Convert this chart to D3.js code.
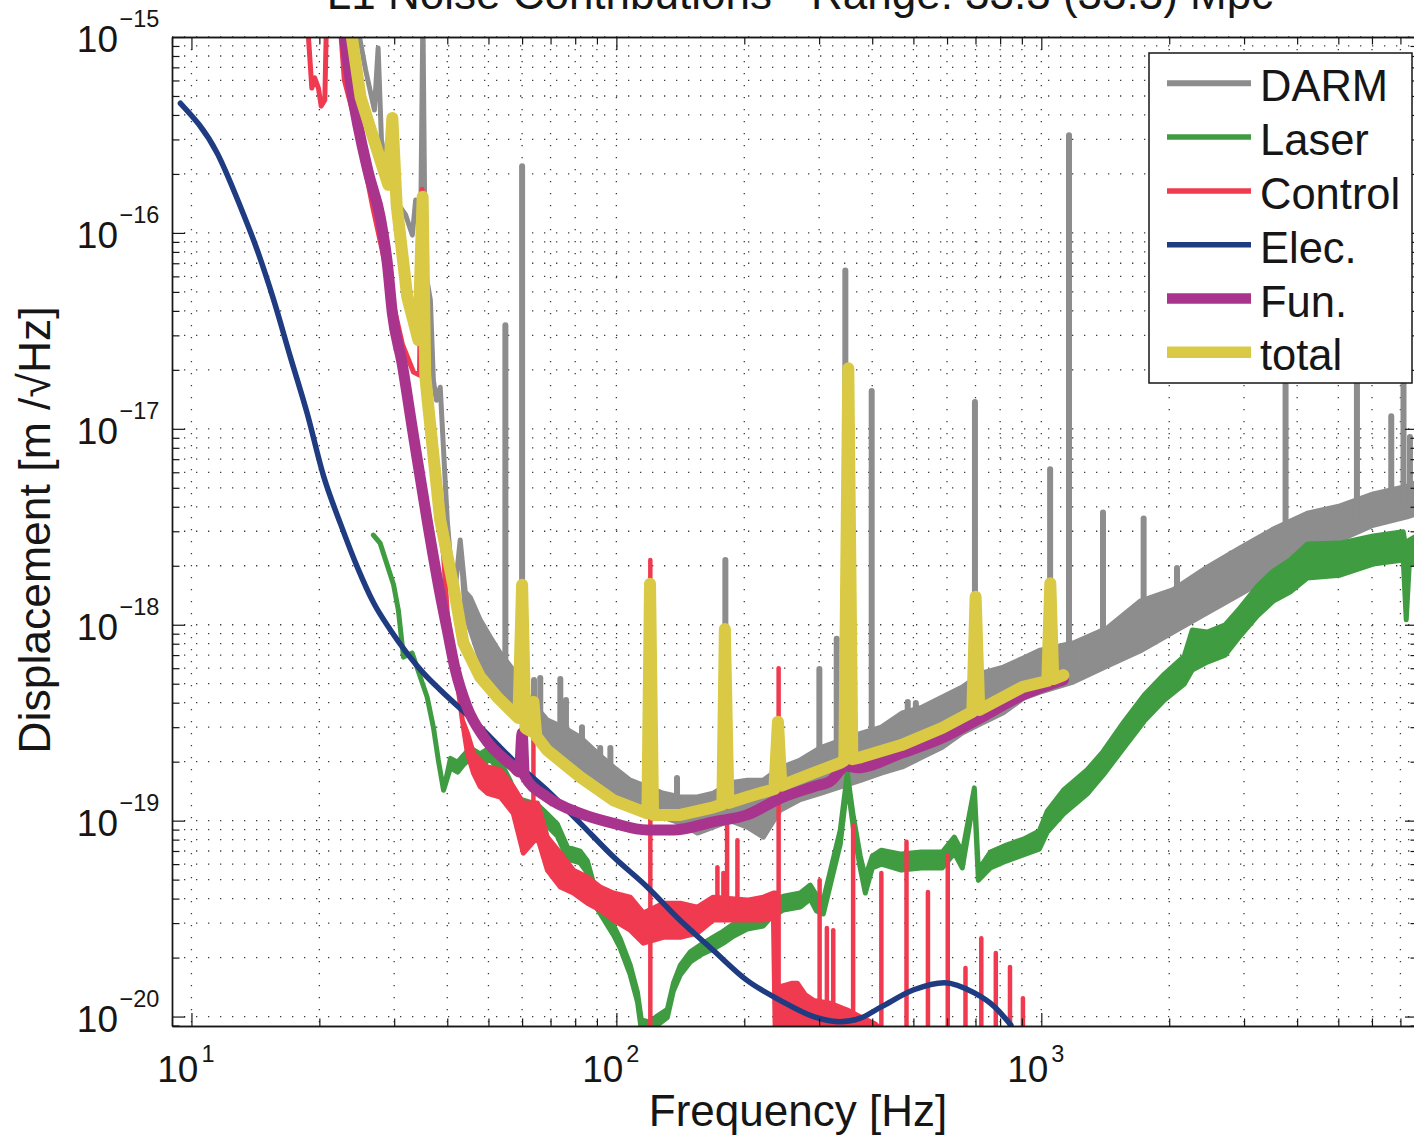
<!DOCTYPE html>
<html>
<head>
<meta charset="utf-8">
<title>L1 Noise Contributions</title>
<script src="https://cdnjs.cloudflare.com/ajax/libs/d3/7.8.5/d3.min.js"></script>
<style>
	body { margin: 0; background: #fff; }
	svg { display: block; font-family: "Liberation Sans", Arial, Helvetica, sans-serif; }
</style>
</head>
<body>
<svg id="chart" width="1414" height="1138"></svg>
<script>
"use strict";

// ---- data: [Hz, m/rtHz] or [Hz, low, high] for noisy bands ----
var seriesNames = ["DARM", "Laser", "Control", "Elec.", "Fun.", "total"];

var darmBand = [
	[24.3, 1.3e-15], [25.7, 6.79e-16], [26.95, 4.24e-16], [27.5, 8.79e-16], [28.0, 2.98e-16],
	[28.8, 2.14e-16], [30.2, 1.47e-16], [31.9, 1.24e-16], [33.1, 9.75e-17], [33.7, 1.47e-16],
	[34.6, 9.19e-17], [35.05, 1.3e-15], [35.5, 6.46e-17], [36.5, 4.54e-17], [37.1, 1.77e-17],
	[37.7, 1.40e-17], [38.5, 1.63e-17], [39.2, 7.79e-18], [40.0, 3.42e-18], [40.7, 2.14e-18],
	[41.8, 1.56e-18], [42.9, 2.71e-18],
	[44.1, 1.12e-18, 1.47e-18], [45.3, 9.40e-19, 1.38e-18], [47.8, 6.62e-19, 1.06e-18],
	[50.5, 5.04e-19, 8.65e-19], [53.3, 4.48e-19, 7.17e-19], [57.2, 3.80e-19, 5.87e-19],
	[62.7, 3.00e-19, 4.13e-19], [68.8, 2.21e-19, 3.26e-19], [75.0, 1.97e-19, 3.00e-19],
	[82.2, 1.82e-19, 2.67e-19], [90.2, 1.49e-19, 2.21e-19], [98.4, 1.32e-19, 1.88e-19],
	[107.8, 1.23e-19, 1.61e-19], [118.3, 1.13e-19, 1.49e-19], [129.0, 1.04e-19, 1.38e-19],
	[141.4, 9.72e-20, 1.32e-19], [155.1, 8.64e-20, 1.32e-19], [169, 9.27e-20, 1.38e-19],
	[185.4, 1.0e-19, 1.56e-19], [203.3, 9.27e-20, 1.61e-19], [221.8, 8.24e-20, 1.61e-19],
	[243, 1.13e-19, 1.86e-19], [270.9, 1.28e-19, 2.04e-19], [303.6, 1.38e-19, 2.37e-19],
	[338.2, 1.49e-19, 2.58e-19], [377.2, 1.61e-19, 2.80e-19], [420.3, 1.75e-19, 3.00e-19],
	[470.9, 1.88e-19, 3.55e-19], [524.8, 2.11e-19, 3.80e-19], [584.8, 2.37e-19, 4.28e-19],
	[651.8, 2.80e-19, 4.81e-19], [726.3, 3.15e-19, 5.67e-19], [814.2, 3.55e-19, 6.08e-19],
	[907.2, 4.22e-19, 6.76e-19], [993.9, 4.53e-19, 7.42e-19], [1189, 5.10e-19, 8.07e-19],
	[1430, 6.16e-19, 9.62e-19], [1708, 7.34e-19, 1.32e-18], [2045, 9.18e-19, 1.51e-18],
	[2458, 1.15e-18, 1.97e-18], [2936, 1.43e-18, 2.47e-18], [3515, 1.79e-18, 3.08e-18],
	[4226, 2.35e-18, 3.71e-18], [5046, 2.71e-18, 4.04e-18], [6042, 3.22e-18, 4.65e-18],
	[7263, 3.55e-18, 5.10e-18], [7692, 3.71e-18, 5.35e-18]
];

// lines: [Hz, base, peak]
var darmLines = [
	[54.8, 5.0e-19, 3.38e-17], [60, 4.0e-19, 2.19e-16], [64.0, 3.5e-19, 5.22e-19],
	[66.2, 3.0e-19, 5.34e-19], [73.8, 2.6e-19, 5.28e-19], [76.1, 2.5e-19, 4.13e-19],
	[83.0, 2.2e-19, 3.00e-19], [91.6, 1.8e-19, 2.35e-19], [96.8, 1.7e-19, 2.35e-19],
	[138.9, 1.15e-19, 1.65e-19], [180.5, 1.3e-19, 2.14e-18], [300.4, 1.8e-19, 5.94e-19],
	[330.0, 2.0e-19, 8.49e-19], [345.8, 2.0e-19, 6.43e-17], [398.9, 2.2e-19, 1.56e-17],
	[484.9, 2.5e-19, 4.03e-19], [506.7, 2.6e-19, 3.99e-19], [673.3, 3.5e-19, 4.53e-19],
	[698.0, 3.7e-19, 1.37e-17], [1049, 5.5e-19, 6.21e-18], [1162, 6.0e-19, 3.15e-16],
	[1397, 7.5e-19, 3.74e-18], [1741, 9.5e-19, 3.49e-18], [2086, 1.2e-18, 1.95e-18],
	[2795, 1.7e-18, 2.31e-18], [3757, 2.5e-18, 2.53e-17], [5531, 3.2e-18, 2.53e-17],
	[6661, 3.8e-18, 1.16e-17], [7118, 4.0e-18, 2.53e-17], [7371, 4.2e-18, 9.08e-18]
];

var laserBand = [
	[26.8, 2.87e-18], [27.8, 2.61e-18], [29.9, 1.60e-18], [30.7, 1.18e-18], [31.55, 6.84e-19],
	[33.06, 7.17e-19], [35.86, 4.28e-19], [37.1, 3.00e-19],
	[38.1, 2.04e-19], [39.2, 1.43e-19],
	[40.7, 1.86e-19, 2.08e-19], [42.3, 1.77e-19, 1.99e-19], [43.7, 1.93e-19, 2.16e-19],
	[45.3, 2.08e-19, 2.35e-19], [47.8, 1.90e-19, 2.19e-19], [50.5, 2.06e-19, 2.37e-19],
	[53.3, 1.75e-19, 2.02e-19], [56.3, 1.38e-19, 1.59e-19], [58.5, 1.16e-19, 1.30e-19],
	[65.2, 1.05e-19, 1.21e-19], [68.8, 9.39e-20, 1.08e-19], [72.6, 8.34e-20, 9.61e-20],
	[76.7, 6.37e-20, 7.33e-20], [82.2, 6.08e-20, 6.99e-20], [85.5, 5.40e-20, 6.22e-20],
	[90.2, 3.54e-20, 4.07e-20], [95.2, 2.93e-20, 3.30e-20], [98.4, 2.61e-20, 2.93e-20],
	[102, 2.24e-20, 2.51e-20], [107.8, 1.63e-20, 1.83e-20], [112.1, 1.19e-20, 1.33e-20],
	[114.5, 8.53e-21, 9.6e-21], [120.2, 8.33e-21, 9.37e-21], [124.2, 8.96e-21, 1.0e-20],
	[131.8, 9.9e-21, 1.09e-20], [136.2, 1.35e-20, 1.48e-20], [141.4, 1.63e-20, 1.83e-20],
	[149.3, 1.90e-20, 2.14e-20], [157.6, 2.06e-20, 2.32e-20], [169, 2.21e-20, 2.54e-20],
	[178.6, 2.37e-20, 2.73e-20], [188.5, 2.57e-20, 2.97e-20], [203.3, 2.80e-20, 3.22e-20],
	[221.8, 2.90e-20, 3.34e-20], [230.2, 3.18e-20, 3.66e-20], [247.2, 3.50e-20, 4.12e-20],
	[270.9, 3.62e-20, 4.27e-20], [285.9, 3.98e-20, 4.69e-20], [295.6, 3.46e-20, 4.17e-20],
	[306.9, 3.34e-20, 3.93e-20], [318.7, 4.69e-20, 5.53e-20], [336.4, 7.59e-20, 8.96e-20],
	[349.6, 1.56e-19, 1.75e-19], [361.1, 9.17e-20, 1.05e-19], [374.9, 5.73e-20, 6.60e-20],
	[385.3, 4.27e-20, 5.15e-20], [400.2, 5.73e-20, 6.60e-20], [420.3, 6.00e-20, 7.07e-20],
	[468.3, 5.59e-20, 6.75e-20], [522.0, 5.73e-20, 6.91e-20], [584.8, 5.73e-20, 6.91e-20],
	[624.2, 6.83e-20, 8.24e-20], [651.8, 5.73e-20, 6.91e-20], [695.7, 1.34e-19, 1.47e-19],
	[710.9, 4.97e-20, 5.59e-20], [758.6, 5.73e-20, 6.91e-20], [827.5, 6.22e-20, 7.50e-20],
	[907.2, 6.68e-20, 8.05e-20], [989.2, 7.16e-20, 8.86e-20], [1033, 8.75e-20, 1.12e-19],
	[1127, 1.08e-19, 1.43e-19], [1283, 1.37e-19, 1.82e-19], [1399, 1.71e-19, 2.26e-19],
	[1568, 2.37e-19, 3.22e-19], [1747, 3.22e-19, 4.38e-19], [1948, 4.13e-19, 5.60e-19],
	[2170, 4.98e-19, 6.92e-19], [2266, 5.87e-19, 9.40e-19], [2458, 6.45e-19, 9.18e-19],
	[2710, 7.00e-19, 1.0e-18], [2936, 8.76e-19, 1.22e-18], [3224, 1.11e-18, 1.57e-18],
	[3515, 1.32e-18, 1.88e-18], [3849, 1.47e-18, 2.14e-18], [4226, 1.73e-18, 2.58e-18],
	[5046, 1.79e-18, 2.61e-18], [6042, 2.04e-18, 2.84e-18], [7108, 2.14e-18, 2.98e-18],
	[7224, 1.06e-18, 2.40e-18], [7343, 2.01e-18, 2.70e-18], [7692, 2.08e-18, 2.87e-18]
];

var controlBand = [
	[18.7, 1.3e-15], [19.2, 5.49e-16], [19.5, 6.18e-16], [19.9, 5.49e-16], [20.2, 4.44e-16],
	[20.6, 4.77e-16], [20.8, 1.3e-15], [21.6, 2e-15], [22.3, 1.3e-15], [22.9, 6.03e-16],
	[23.9, 4.24e-16], [25.0, 2.81e-16], [26.7, 1.36e-16], [28.1, 8.18e-17], [29.7, 4.54e-17],
	[31.4, 2.68e-17], [33.3, 1.95e-17], [34.4, 1.88e-17], [34.9, 1.67e-16], [35.4, 1.54e-17],
	[36.9, 6.16e-18], [39.2, 2.27e-18], [40.0, 1.15e-18], [41.8, 6.00e-19], [43.4, 3.26e-19],
	[44.6, 2.21e-19, 2.80e-19], [46.1, 1.75e-19, 2.21e-19], [47.8, 1.49e-19, 2.04e-19],
	[49.7, 1.38e-19, 1.88e-19], [53.3, 1.32e-19, 1.82e-19], [57.2, 1.09e-19, 1.49e-19],
	[60.4, 6.83e-20, 1.23e-19], [65.2, 8.24e-20, 1.23e-19], [68.8, 5.59e-20, 8.24e-20],
	[73.8, 4.58e-20, 6.83e-20], [79.2, 4.27e-20, 5.59e-20], [85.5, 3.79e-20, 5.15e-20],
	[91.6, 3.50e-20, 4.58e-20], [98.4, 3.11e-20, 4.27e-20], [107.8, 2.76e-20, 4.07e-20],
	[115.7, 2.37e-20, 3.38e-20], [129.0, 2.54e-20, 3.79e-20], [141.4, 2.54e-20, 3.79e-20],
	[155.1, 2.67e-20, 3.62e-20], [169, 3.11e-20, 4.07e-20], [203.3, 3.11e-20, 3.93e-20],
	[221.8, 3.11e-20, 4.07e-20], [234.2, 3.22e-20, 4.27e-20], [237.3, 5e-21, 4.27e-20],
	[239.3, 5e-21, 1.37e-20], [243, 5e-21, 1.42e-20], [259.5, 5e-21, 1.48e-20],
	[266.6, 5e-21, 1.48e-20], [278.5, 5e-21, 1.29e-20], [291, 5e-21, 1.21e-20],
	[318.7, 5e-21, 1.17e-20], [349.6, 5e-21, 1.08e-20], [377.2, 5e-21, 9.9e-21],
	[406.8, 5e-21, 9.16e-21], [420.3, 5e-21, 8.53e-21]
];

var controlLines = [
	[63.8, 1.2e-19, 2.67e-19], [120.2, 5e-21, 2.14e-18], [172.9, 3.5e-20, 5.79e-20],
	[178.6, 3.5e-20, 5.40e-20], [182.2, 3.5e-20, 1.0e-19], [192.7, 3.5e-20, 7.95e-20],
	[240.9, 5e-21, 6.00e-19], [300.8, 5e-21, 4.97e-20], [312.9, 5e-21, 2.83e-20],
	[323.9, 5e-21, 2.76e-20], [360.7, 5e-21, 9.50e-20], [420.3, 5e-21, 5.40e-20],
	[481.7, 5e-21, 7.80e-20], [541.0, 5e-21, 4.32e-20], [602.4, 5e-21, 6.68e-20],
	[663.1, 5e-21, 1.77e-20], [722.4, 5e-21, 2.51e-20], [781.5, 5e-21, 2.11e-20],
	[843.9, 5e-21, 1.79e-20], [905.2, 5e-21, 1.24e-20]
];

var elecCurve = [
	[9.42, 4.59e-16], [11.5, 2.55e-16], [13.04, 1.36e-16], [14.28, 8.18e-17], [15.62, 4.54e-17],
	[17.09, 2.33e-17], [18.72, 1.20e-17], [20.48, 5.70e-18], [22.41, 3.29e-18], [24.54, 1.98e-18],
	[26.85, 1.29e-18], [29.39, 9.40e-19], [32.18, 7.14e-19], [35.2, 5.64e-19], [38.52, 4.64e-19],
	[47.8, 3.01e-19], [57.2, 2.03e-19], [68.7, 1.43e-19],
	[82.2, 9.72e-20], [98.4, 6.54e-20], [118, 4.6e-20], [141, 3.11e-20], [169, 2.18e-20],
	[203, 1.53e-20], [243, 1.21e-20], [291, 1.0e-20], [336, 9.41e-21], [375, 9.82e-21],
	[420, 1.12e-20], [501, 1.37e-20], [591, 1.49e-20], [696, 1.32e-20], [777, 1.12e-20],
	[848, 9.05e-21]
];

var funCurve = [
	[22.8, 1.1e-15], [23.76, 5.58e-16], [26.1, 2.02e-16], [27.8, 1.21e-16], [28.9, 7.02e-17],
	[29.7, 3.9e-17], [31.3, 2.17e-17], [33.06, 1.02e-17], [35.86, 3.42e-18], [38.2, 1.56e-18],
	[40.0, 9.4e-19], [41.8, 5.87e-19], [44.5, 3.81e-19], [48.7, 2.68e-19], [57.3, 1.88e-19],
	[59.1, 1.77e-19], [60.0, 2.80e-19], [60.75, 1.70e-19], [68.7, 1.32e-19], [82.2, 1.09e-19],
	[98.5, 9.69e-20], [118.1, 8.96e-20], [136.4, 8.96e-20], [169.2, 9.87e-20], [203, 1.07e-19],
	[243, 1.30e-19], [290.8, 1.49e-19], [318.7, 1.59e-19], [348, 1.90e-19], [368.7, 1.86e-19],
	[469, 2.21e-19], [584, 2.64e-19], [727, 3.39e-19], [904.7, 4.38e-19], [1127, 5.22e-19]
];

var totalCurve = [
	[23.7, 1.1e-15], [25.0, 4.94e-16], [27.2, 2.75e-16], [29.07, 1.76e-16], [29.7, 3.86e-16],
	[30.4, 1.39e-16], [32.2, 4.71e-17], [34.2, 2.84e-17], [35.0, 1.53e-16], [35.5, 1.88e-17],
	[35.9, 1.45e-17], [38.5, 3.42e-18], [41.4, 1.56e-18], [43.65, 8.07e-19], [47.8, 5.41e-19],
	[52.4, 4.28e-19], [58.8, 3.34e-19], [60.0, 1.6e-18], [61.1, 2.97e-19], [62.7, 2.87e-19],
	[63.8, 4.03e-19], [64.8, 2.70e-19], [68.7, 2.29e-19], [82.2, 1.67e-19], [98.5, 1.27e-19],
	[118.3, 1.09e-19], [120.0, 1.62e-18], [122.0, 1.07e-19], [141.4, 1.07e-19], [169.2, 1.17e-19],
	[177.6, 1.21e-19], [180.0, 9.5e-19], [183.5, 1.23e-19], [203, 1.32e-19], [235.4, 1.45e-19],
	[240.0, 3.2e-19], [244.5, 1.51e-19], [290.8, 1.75e-19], [336.4, 1.97e-19], [343.9, 2.03e-19],
	[351.4, 2.04e-17], [359.2, 2.06e-19], [377.2, 2.11e-19], [468.4, 2.43e-19], [584, 2.97e-19],
	[688, 3.59e-19], [700.5, 1.39e-18], [714.5, 3.67e-19], [904.7, 4.82e-19], [1033, 5.16e-19],
	[1050, 1.63e-18], [1067, 5.28e-19], [1127, 5.53e-19]
];

var xTickValues = [10, 100, 1000];
var xTickExponents = ["1", "2", "3"];
var yTickValues = [1e-15, 1e-16, 1e-17, 1e-18, 1e-19, 1e-20];
var yTickExponents = ["\u221215", "\u221216", "\u221217", "\u221218", "\u221219", "\u221220"];

var titleText = "L1 Noise Contributions - Range: 33.3 (33.3) Mpc";
var xTitle = "Frequency [Hz]";
var yTitle = "Displacement [m /\u221aHz]";

// ---- styles ----
var colors = ["#8d8d8d", "#3f9c40", "#ef3a50", "#1f3b82", "#a9348d", "#d9c944"],
	lineWidths = [5, 5, 5, 5.5, 11, 12],
	legendWidths = [6, 5.5, 5.5, 5.5, 10.5, 11.5],
	box = { left: 172, top: 37, right: 1418, bottom: 1026 },
	ink = "#161616";

var svg = d3.select("#chart");

var x = d3.scaleLog().domain([9, 7700]).range([box.left, box.right]);
var y = d3.scaleLog().domain([8.95e-21, 1e-15]).range([box.bottom, box.top]);

svg.append("rect").attr("width", 1414).attr("height", 1138).attr("fill", "#fff");

svg.append("defs").append("clipPath").attr("id", "plotClip")
	.append("rect")
		.attr("x", box.left).attr("y", box.top)
		.attr("width", box.right - box.left).attr("height", box.bottom - box.top);

// dotted grid at every log tick
var grid = svg.append("g").attr("class", "grid")
	.attr("stroke", "#3a3a3a").attr("stroke-width", 1.3).attr("stroke-dasharray", "1.3,10.7");

grid.selectAll("line.gx")
	.data(x.ticks().filter(function(d) { return d > 9; }))
	.enter().append("line").attr("class", "gx")
		.attr("x1", function(d) { return x(d); }).attr("x2", function(d) { return x(d); })
		.attr("y1", box.top).attr("y2", box.bottom);

grid.selectAll("line.gy")
	.data(y.ticks().filter(function(d) { return d >= 1e-20 * 0.999; }))
	.enter().append("line").attr("class", "gy")
		.attr("y1", function(d) { return y(d); }).attr("y2", function(d) { return y(d); })
		.attr("x1", box.left).attr("x2", box.right);

// curves
var plotG = svg.append("g").attr("clip-path", "url(#plotClip)");

function lowOf(d) { return d[1]; }
function highOf(d) { return d.length > 2 ? d[2] : d[1]; }

var band = d3.area()
	.x(function(d) { return x(d[0]); })
	.y0(function(d) { return y(lowOf(d)); })
	.y1(function(d) { return y(highOf(d)); });

var line = d3.line()
	.x(function(d) { return x(d[0]); })
	.y(function(d) { return y(d[1]); });

var smoothLine = d3.line()
	.curve(d3.curveMonotoneX)
	.x(function(d) { return x(d[0]); })
	.y(function(d) { return y(d[1]); });

function drawBand(data, i) {
	plotG.append("path")
		.datum(data)
		.attr("d", band)
		.attr("fill", colors[i])
		.attr("stroke", colors[i])
		.attr("stroke-width", lineWidths[i])
		.attr("stroke-linejoin", "round");
}

function drawLines(data, i, w) {
	plotG.append("g").selectAll("line")
		.data(data)
		.enter().append("line")
			.attr("x1", function(d) { return x(d[0]); })
			.attr("x2", function(d) { return x(d[0]); })
			.attr("y1", function(d) { return y(d[1]); })
			.attr("y2", function(d) { return y(d[2]); })
			.attr("stroke", colors[i])
			.attr("stroke-width", w)
			.attr("stroke-linecap", "round");
}

function drawCurve(data, i, gen) {
	plotG.append("path")
		.datum(data)
		.attr("d", gen)
		.attr("fill", "none")
		.attr("stroke", colors[i])
		.attr("stroke-width", lineWidths[i])
		.attr("stroke-linejoin", "round")
		.attr("stroke-linecap", "round");
}

drawBand(darmBand, 0);
drawLines(darmLines, 0, 6);
drawBand(laserBand, 1);
drawBand(controlBand, 2);
drawLines(controlLines, 2, 4.5);
drawCurve(elecCurve, 3, smoothLine);
drawCurve(funCurve, 4, smoothLine);
drawCurve(totalCurve, 5, line);

// axes: ticks inside the box on all four sides
var minorX = x.ticks().filter(function(d) { return xTickValues.indexOf(d) < 0; }),
	minorY = y.ticks().filter(function(d) { return yTickValues.indexOf(d) < 0; });

function addAxis(axis, tx, ty) {
	var g = svg.append("g")
		.attr("transform", "translate(" + tx + "," + ty + ")")
		.call(axis);
	g.select(".domain").attr("stroke", ink).attr("stroke-width", 1.4);
	g.selectAll(".tick line").attr("stroke", ink).attr("stroke-width", 1.2);
	g.selectAll(".tick text").remove();
}

[[d3.axisBottom, box.bottom], [d3.axisTop, box.top]].forEach(function(a) {
	addAxis(a[0](x).tickValues(xTickValues).tickSize(-13).tickSizeOuter(0).tickFormat(""), 0, a[1]);
	addAxis(a[0](x).tickValues(minorX).tickSize(-7.5).tickSizeOuter(0).tickFormat(""), 0, a[1]);
});
[[d3.axisLeft, box.left], [d3.axisRight, box.right]].forEach(function(a) {
	addAxis(a[0](y).tickValues(yTickValues).tickSize(-13).tickSizeOuter(0).tickFormat(""), a[1], 0);
	addAxis(a[0](y).tickValues(minorY).tickSize(-7.5).tickSizeOuter(0).tickFormat(""), a[1], 0);
});

// tick labels as 10^n
var labels = svg.append("g").attr("fill", ink);

xTickValues.forEach(function(v, i) {
	labels.append("text")
		.attr("x", x(v) + 7).attr("y", 1082)
		.attr("text-anchor", "end").attr("font-size", 37)
		.text("10");
	labels.append("text")
		.attr("x", x(v) + 10).attr("y", 1062)
		.attr("font-size", 23.5)
		.text(xTickExponents[i]);
});

yTickValues.forEach(function(v, i) {
	labels.append("text")
		.attr("x", 118).attr("y", y(v) + 15)
		.attr("text-anchor", "end").attr("font-size", 37)
		.text("10");
	labels.append("text")
		.attr("x", 119.5).attr("y", y(v) - 9.8)
		.attr("font-size", 23.5)
		.text(yTickExponents[i]);
});

labels.append("text")
	.attr("x", 798).attr("y", 1126)
	.attr("text-anchor", "middle").attr("font-size", 44)
	.text(xTitle);

labels.append("text")
	.attr("transform", "translate(50,530) rotate(-90)")
	.attr("text-anchor", "middle").attr("font-size", 44.5)
	.text(yTitle);

labels.append("text")
	.attr("x", 800).attr("y", 9)
	.attr("text-anchor", "middle").attr("font-size", 44)
	.text(titleText);

// legend
var legend = svg.append("g").attr("transform", "translate(1149,53)");

legend.append("rect")
	.attr("width", 263).attr("height", 330)
	.attr("fill", "#fff").attr("stroke", ink).attr("stroke-width", 1.5);

var entry = legend.selectAll("g.entry")
	.data(seriesNames)
	.enter().append("g").attr("class", "entry")
		.attr("transform", function(d, i) { return "translate(0," + (30.3 + i * 53.8) + ")"; });

entry.append("line")
	.attr("x1", 18).attr("x2", 102)
	.attr("stroke", function(d, i) { return colors[i]; })
	.attr("stroke-width", function(d, i) { return legendWidths[i]; });

entry.append("text")
	.attr("x", 111).attr("y", 18)
	.attr("font-size", 43.5).attr("fill", ink)
	.text(function(d) { return d; });
</script>
</body>
</html>
